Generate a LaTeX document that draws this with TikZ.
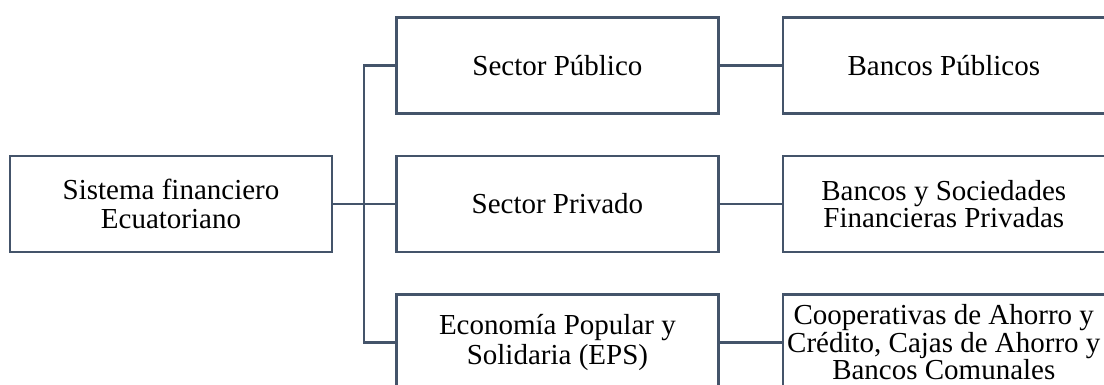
\documentclass[tikz,border=0pt]{standalone}
\usepackage{fontspec}
\setmainfont{Liberation Serif}
\usetikzlibrary{calc, positioning}
\definecolor{boxline}{HTML}{44546A}

\begin{document}
\begin{tikzpicture}[x=1pt, y=1pt, node distance=40pt and 62pt,
	box/.style={draw=boxline, line width=2.4pt, minimum width=322pt, minimum height=96pt, inner sep=0pt, align=center, font=\fontsize{29}{29.5}\selectfont},
	tight/.style={font=\fontsize{29}{24.5}\selectfont},
	link/.style={draw=boxline, line width=2.4pt}]

		\useasboundingbox (0,0) rectangle (1104,-385);

		% nodes - sistema and sectores %
		\node[box] (sis) at (171,-204) {Sistema financiero\\Ecuatoriano};
		\node[box, right = of sis] (priv) {Sector Privado};
		\node[box, above = of priv] (pub) {Sector P\'ublico};
		\node[box, below = of priv] (eps) {Econom\'ia Popular y\\Solidaria (EPS)};

		% nodes - entidades %
		\node[box, right = of pub] (bpub) {Bancos P\'ublicos};
		\node[box, tight, right = of priv] (bpriv) {Bancos y Sociedades\\Financieras Privadas};
		\node[box, tight, right = of eps] (coop) {Cooperativas de Ahorro y\\Cr\'edito, Cajas de Ahorro y\\Bancos Comunales};

		% edges %
		\coordinate (trunk) at ($(sis.east)!0.5!(priv.west)$);
		\draw[link] (sis) -- (priv);
		\draw[link] (pub.west) -| (trunk) |- (eps.west);
		\draw[link] (pub) -- (bpub);
		\draw[link] (priv) -- (bpriv);
		\draw[link] (eps) -- (coop);
		\end{tikzpicture}
\end{document}
